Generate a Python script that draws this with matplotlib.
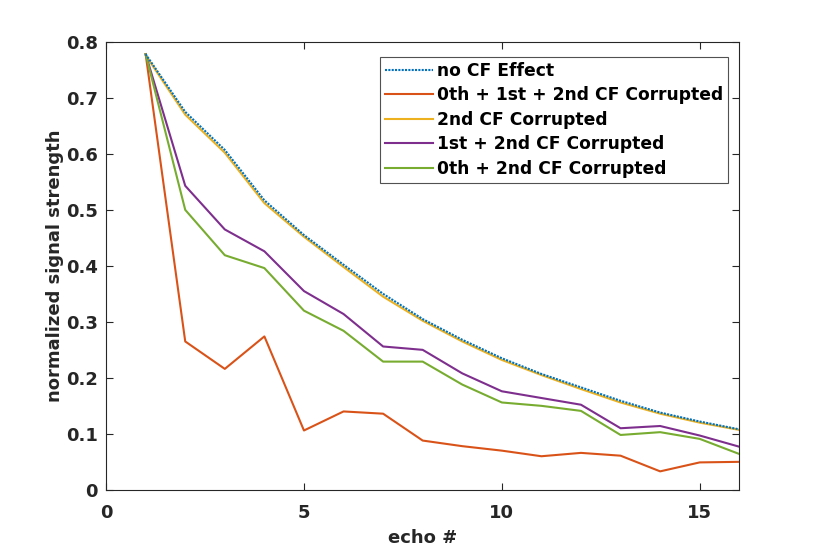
import matplotlib
matplotlib.use("Agg")
import matplotlib.pyplot as plt
import numpy as np

# echo numbers
echo = np.arange(1, 17)

# normalized signal strength per case
no_cf = [0.778, 0.675, 0.607, 0.517, 0.455, 0.402, 0.350, 0.305,
         0.268, 0.235, 0.207, 0.183, 0.159, 0.138, 0.122, 0.108]
all_corrupt = [0.778, 0.265, 0.216, 0.274, 0.106, 0.140, 0.136, 0.088,
               0.078, 0.070, 0.060, 0.066, 0.061, 0.033, 0.049, 0.050]
second_corrupt = [0.776, 0.670, 0.602, 0.512, 0.452, 0.398, 0.345, 0.302,
                  0.265, 0.232, 0.205, 0.180, 0.156, 0.136, 0.120, 0.107]
first_second = [0.778, 0.543, 0.465, 0.426, 0.355, 0.314, 0.256, 0.250,
                0.208, 0.176, 0.164, 0.152, 0.110, 0.114, 0.097, 0.077]
zeroth_second = [0.778, 0.500, 0.419, 0.396, 0.320, 0.284, 0.229, 0.229,
                 0.188, 0.156, 0.150, 0.141, 0.098, 0.103, 0.091, 0.064]

labels = ["no CF Effect", "0th + 1st + 2nd CF Corrupted", "2nd CF Corrupted",
          "1st + 2nd CF Corrupted", "0th + 2nd CF Corrupted"]

plt.rcParams['font.family'] = ['DejaVu Sans']
plt.rcParams['font.weight'] = 'bold'

fig = plt.figure(figsize=(8.16, 5.51), dpi=100)
ax = fig.add_axes([0.130, 0.111, 0.776, 0.813])

ax.plot(echo, no_cf, color="#0072BD", lw=1.5, ls=(0, (1, 0.6)), label=labels[0], zorder=5)
ax.plot(echo, all_corrupt, color="#D95319", lw=1.5, label=labels[1])
ax.plot(echo, second_corrupt, color="#EDB120", lw=1.5, label=labels[2])
ax.plot(echo, first_second, color="#7E2F8E", lw=1.5, label=labels[3])
ax.plot(echo, zeroth_second, color="#77AC30", lw=1.5, label=labels[4])

ax.set_xlim(0, 16)
ax.set_ylim(0, 0.8)
ax.set_xticks([0, 5, 10, 15])
ax.set_yticks(np.arange(0, 0.81, 0.1))
ax.set_yticklabels(["0", "0.1", "0.2", "0.3", "0.4", "0.5", "0.6", "0.7", "0.8"])
ax.tick_params(direction="in", top=True, right=True, labelsize=13, colors="#262626", length=5)
ax.tick_params(axis="x", pad=10)
ax.tick_params(axis="y", pad=6)
for s in ax.spines.values():
    s.set_color("#262626")
    s.set_linewidth(0.8)

ax.set_xlabel("echo #", fontsize=13, fontweight="bold", color="#262626", labelpad=5)
ax.set_ylabel("normalized signal strength", fontsize=13, fontweight="bold", color="#262626", labelpad=1)

leg = ax.legend(loc="upper right", bbox_to_anchor=(0.982, 0.967), fontsize=12.3,
                frameon=True, fancybox=False, edgecolor="#262626", handlelength=2.8,
                handletextpad=0.2, labelspacing=0.38, borderpad=0.3, borderaxespad=0)
leg.get_frame().set_linewidth(0.8)

fig.savefig("out.png", dpi=100)
